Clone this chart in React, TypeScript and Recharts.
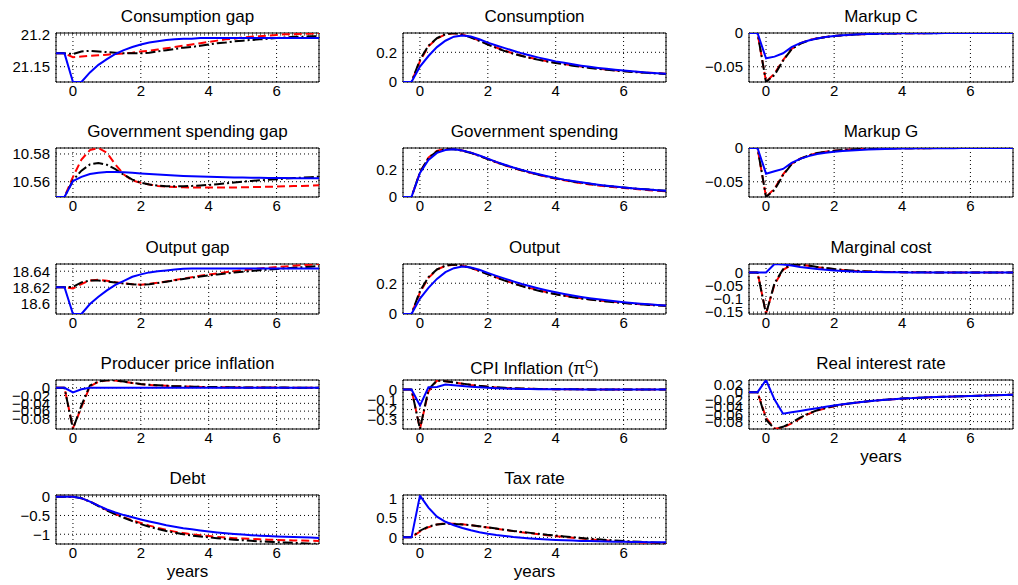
import { LineChart, Line, XAxis, YAxis, CartesianGrid, ReferenceArea } from "recharts";

// quarters, in years after the shock
const TIME = [
  -0.5, -0.25, 0, 0.25, 0.5, 0.75, 1, 1.25,
  1.5, 1.75, 2, 2.25, 2.5, 2.75, 3, 3.25,
  3.5, 3.75, 4, 4.25, 4.5, 4.75, 5, 5.25,
  5.5, 5.75, 6, 6.25, 6.5, 6.75, 7, 7.25,
];
const X_TICKS = [0, 2, 4, 6];

const consGapBlue = [
  21.171, 21.171, 21.126, 21.126, 21.141, 21.153, 21.162, 21.170,
  21.176, 21.181, 21.185, 21.188, 21.190, 21.192, 21.193, 21.194,
  21.194, 21.195, 21.195, 21.195, 21.195, 21.195, 21.195, 21.195,
  21.195, 21.195, 21.195, 21.195, 21.195, 21.195, 21.195, 21.195,
];
const consGapBlack = [
  21.171, 21.171, 21.170, 21.174, 21.175, 21.174, 21.173, 21.172,
  21.171, 21.171, 21.171, 21.172, 21.174, 21.176, 21.178, 21.180,
  21.181, 21.183, 21.185, 21.187, 21.188, 21.190, 21.191, 21.192,
  21.193, 21.194, 21.195, 21.196, 21.197, 21.197, 21.198, 21.198,
];
const consGapRed = [
  21.171, 21.171, 21.165, 21.166, 21.167, 21.168, 21.169, 21.170,
  21.171, 21.172, 21.174, 21.175, 21.177, 21.179, 21.181, 21.183,
  21.185, 21.187, 21.189, 21.191, 21.193, 21.194, 21.196, 21.197,
  21.198, 21.199, 21.200, 21.201, 21.201, 21.202, 21.202, 21.203,
];

const consBlue = [
  0, 0, 0.104, 0.175, 0.235, 0.278, 0.305, 0.313,
  0.306, 0.288, 0.265, 0.246, 0.228, 0.21, 0.193, 0.178,
  0.164, 0.151, 0.139, 0.129, 0.119, 0.11, 0.102, 0.095,
  0.089, 0.083, 0.077, 0.072, 0.067, 0.063, 0.059, 0.055,
];
const consBlack = [
  0, 0, 0.15, 0.245, 0.295, 0.322, 0.33, 0.32,
  0.3, 0.277, 0.252, 0.229, 0.208, 0.19, 0.175, 0.161,
  0.149, 0.138, 0.128, 0.119, 0.11, 0.102, 0.095, 0.088,
  0.082, 0.077, 0.072, 0.068, 0.064, 0.06, 0.057, 0.054,
];
const consRed = [
  0, 0, 0.14, 0.24, 0.293, 0.32, 0.328, 0.32,
  0.301, 0.279, 0.255, 0.232, 0.211, 0.193, 0.177, 0.163,
  0.151, 0.14, 0.13, 0.121, 0.112, 0.104, 0.097, 0.09,
  0.084, 0.079, 0.074, 0.07, 0.066, 0.062, 0.059, 0.056,
];

const markCBlue = [
  0, 0, -0.0375, -0.035, -0.03, -0.021, -0.015, -0.011,
  -0.008, -0.006, -0.0045, -0.0035, -0.0027, -0.002, -0.0015, -0.0012,
  -0.0009, -0.0007, -0.0005, -0.0004, -0.0003, -0.0002, -0.0002, -0.0001,
  -0.0001, 0, 0, 0, 0, 0, 0, 0,
];
const markCBlack = [
  0, 0, -0.0725, -0.062, -0.041, -0.024, -0.016, -0.011,
  -0.008, -0.006, -0.0045, -0.0035, -0.0027, -0.002, -0.0015, -0.0012,
  -0.0009, -0.0007, -0.0005, -0.0004, -0.0003, -0.0002, -0.0002, -0.0001,
  -0.0001, 0, 0, 0, 0, 0, 0, 0,
];
const markCRed = [
  0, 0, -0.072, -0.06, -0.04, -0.0235, -0.0155, -0.0105,
  -0.0078, -0.0058, -0.0044, -0.0034, -0.0026, -0.002, -0.0015, -0.0011,
  -0.0008, -0.0006, -0.0005, -0.0004, -0.0003, -0.0002, -0.0001, -0.0001,
  0, 0, 0, 0, 0, 0, 0, 0,
];

const govGapBlue = [
  10.549, 10.549, 10.5605, 10.5635, 10.5655, 10.5665, 10.567, 10.567,
  10.5668, 10.5664, 10.566, 10.5656, 10.5652, 10.5648, 10.5645, 10.5642,
  10.564, 10.5638, 10.5636, 10.5634, 10.5632, 10.5631, 10.563, 10.5629,
  10.5628, 10.5627, 10.5626, 10.5626, 10.5625, 10.5625, 10.5625, 10.5625,
];
const govGapBlack = [
  10.549, 10.549, 10.561, 10.568, 10.5725, 10.5735, 10.5722, 10.569,
  10.565, 10.5615, 10.5593, 10.558, 10.5572, 10.5568, 10.5567, 10.5568,
  10.557, 10.5573, 10.5577, 10.5582, 10.5588, 10.5594, 10.56, 10.5606,
  10.561, 10.5614, 10.5618, 10.5622, 10.5626, 10.563, 10.5633, 10.5636,
];
const govGapRed = [
  10.549, 10.549, 10.5635, 10.576, 10.5828, 10.5843, 10.5808, 10.5724,
  10.5652, 10.561, 10.5592, 10.558, 10.557, 10.5565, 10.5562, 10.556,
  10.5559, 10.5558, 10.5558, 10.5558, 10.5558, 10.5559, 10.556, 10.5561,
  10.5562, 10.5564, 10.5565, 10.5567, 10.5569, 10.557, 10.5572, 10.5574,
];

const govBlue = [
  0, 0, 0.176, 0.27, 0.322, 0.343, 0.348, 0.34,
  0.324, 0.303, 0.28, 0.257, 0.236, 0.216, 0.198, 0.181,
  0.166, 0.152, 0.139, 0.127, 0.117, 0.107, 0.098, 0.09,
  0.083, 0.076, 0.07, 0.064, 0.059, 0.054, 0.05, 0.046,
];
const govBlack = [
  0, 0, 0.18, 0.285, 0.333, 0.35, 0.349, 0.339,
  0.322, 0.3, 0.277, 0.254, 0.233, 0.213, 0.195, 0.178,
  0.163, 0.149, 0.136, 0.125, 0.114, 0.105, 0.096, 0.088,
  0.081, 0.075, 0.069, 0.063, 0.058, 0.054, 0.05, 0.046,
];
const govRed = [
  0, 0, 0.18, 0.288, 0.337, 0.353, 0.351, 0.34,
  0.323, 0.301, 0.277, 0.254, 0.232, 0.212, 0.194, 0.177,
  0.161, 0.147, 0.134, 0.122, 0.111, 0.101, 0.092, 0.084,
  0.077, 0.071, 0.065, 0.06, 0.055, 0.05, 0.046, 0.042,
];

const markGBlue = [
  0, 0, -0.038, -0.0345, -0.031, -0.022, -0.016, -0.012,
  -0.009, -0.007, -0.0055, -0.0045, -0.0036, -0.0029, -0.0023, -0.0018,
  -0.0014, -0.0011, -0.0009, -0.0007, -0.0005, -0.0004, -0.0003, -0.0002,
  -0.0002, -0.0001, -0.0001, 0, 0, 0, 0, 0,
];
const markGBlack = [
  0, 0, -0.0725, -0.062, -0.04, -0.024, -0.016, -0.011,
  -0.0075, -0.0055, -0.004, -0.003, -0.0022, -0.0016, -0.0012, -0.0009,
  -0.0007, -0.0005, -0.0004, -0.0003, -0.0002, -0.0002, -0.0001, -0.0001,
  0, 0, 0, 0, 0, 0, 0, 0,
];
const markGRed = [
  0, 0, -0.0725, -0.06, -0.039, -0.0235, -0.0158, -0.011,
  -0.0075, -0.0055, -0.004, -0.003, -0.0022, -0.0016, -0.0012, -0.0009,
  -0.0007, -0.0005, -0.0004, -0.0003, -0.0002, -0.0002, -0.0001, -0.0001,
  0, 0, 0, 0, 0, 0, 0, 0,
];

const outGapBlue = [
  18.62, 18.62, 18.5865, 18.5865, 18.599, 18.608, 18.616, 18.623,
  18.628, 18.633, 18.636, 18.6385, 18.64, 18.641, 18.642, 18.643,
  18.6433, 18.6435, 18.6435, 18.6435, 18.6435, 18.6435, 18.6435, 18.6435,
  18.6435, 18.6435, 18.6435, 18.6435, 18.6435, 18.6435, 18.6435, 18.6435,
];
const outGapBlack = [
  18.62, 18.62, 18.6205, 18.626, 18.6285, 18.6285, 18.6272, 18.6258,
  18.6246, 18.6236, 18.623, 18.6238, 18.6252, 18.6268, 18.6285, 18.6302,
  18.6318, 18.6333, 18.6347, 18.636, 18.6372, 18.6383, 18.6393, 18.6403,
  18.6412, 18.642, 18.6428, 18.6436, 18.6443, 18.645, 18.6457, 18.6463,
];
const outGapRed = [
  18.62, 18.62, 18.6185, 18.624, 18.6285, 18.6292, 18.628, 18.6262,
  18.6248, 18.6238, 18.6232, 18.6242, 18.6256, 18.6272, 18.629, 18.6308,
  18.6325, 18.6342, 18.6358, 18.6373, 18.6387, 18.64, 18.6412, 18.6423,
  18.6433, 18.6443, 18.6452, 18.646, 18.6468, 18.6475, 18.6482, 18.6489,
];

const outBlue = [
  0, 0, 0.1, 0.17, 0.228, 0.272, 0.298, 0.308,
  0.303, 0.288, 0.267, 0.248, 0.23, 0.212, 0.195, 0.18,
  0.166, 0.153, 0.141, 0.13, 0.12, 0.111, 0.103, 0.096,
  0.089, 0.083, 0.077, 0.072, 0.067, 0.063, 0.059, 0.055,
];
const outBlack = [
  0, 0, 0.15, 0.24, 0.29, 0.315, 0.322, 0.315,
  0.3, 0.28, 0.258, 0.237, 0.217, 0.198, 0.181, 0.165,
  0.151, 0.139, 0.128, 0.118, 0.109, 0.101, 0.094, 0.087,
  0.081, 0.076, 0.071, 0.067, 0.063, 0.059, 0.056, 0.053,
];
const outRed = [
  0, 0, 0.14, 0.235, 0.288, 0.313, 0.32, 0.314,
  0.3, 0.28, 0.259, 0.238, 0.218, 0.2, 0.183, 0.168,
  0.154, 0.141, 0.13, 0.12, 0.111, 0.103, 0.096, 0.089,
  0.083, 0.078, 0.073, 0.068, 0.064, 0.06, 0.057, 0.054,
];

const mcBlue = [
  0, 0, 0, 0.032, 0.03, 0.026, 0.021, 0.017,
  0.013, 0.01, 0.0075, 0.0055, 0.004, 0.003, 0.002, 0.0015,
  0.001, 0.0007, 0.0005, 0.0003, 0.0002, 0.0001, 0, 0,
  0, 0, 0, 0, 0, 0, 0, 0,
];
const mcBlack = [
  0, 0, -0.157, -0.04, 0.012, 0.03, 0.03, 0.026,
  0.021, 0.017, 0.013, 0.01, 0.0075, 0.0055, 0.004, 0.003,
  0.0022, 0.0016, 0.0012, 0.0008, 0.0006, 0.0004, 0.0003, 0.0002,
  0.0001, 0, 0, 0, 0, 0, 0, 0,
];
const mcRed = [
  0, 0, -0.155, -0.045, 0.01, 0.029, 0.029, 0.025,
  0.02, 0.016, 0.012, 0.009, 0.007, 0.005, 0.0037, 0.0027,
  0.002, 0.0015, 0.001, 0.0007, 0.0005, 0.0003, 0.0002, 0.0001,
  0, 0, 0, 0, 0, 0, 0, 0,
];

const ppiBlue = [
  0, 0, -0.012, -0.004, 0, 0, 0, 0,
  0, 0, 0, 0, 0, 0, 0, 0,
  0, 0, 0, 0, 0, 0, 0, 0,
  0, 0, 0, 0, 0, 0, 0, 0,
];
const ppiBlack = [
  0, 0, -0.106, -0.045, 0.006, 0.016, 0.0195, 0.019,
  0.016, 0.0125, 0.0095, 0.0078, 0.0064, 0.0052, 0.0042, 0.0035,
  0.0029, 0.0024, 0.002, 0.0017, 0.0014, 0.0012, 0.001, 0.0008,
  0.0007, 0.0006, 0.0005, 0.0004, 0.0003, 0.0003, 0.0002, 0.0002,
];
const ppiRed = [
  0, 0, -0.104, -0.05, 0.004, 0.015, 0.019, 0.0185,
  0.0155, 0.012, 0.009, 0.0074, 0.006, 0.0049, 0.004, 0.0033,
  0.0027, 0.0022, 0.0018, 0.0015, 0.0012, 0.001, 0.0008, 0.0007,
  0.0006, 0.0005, 0.0004, 0.0003, 0.0003, 0.0002, 0.0002, 0.0001,
];

const cpiBlue = [
  0, 0, -0.16, 0.022, 0.025, 0.05, 0.042, 0.034,
  0.027, 0.021, 0.016, 0.012, 0.009, 0.007, 0.005, 0.004,
  0.003, 0.0022, 0.0016, 0.0012, 0.0009, 0.0007, 0.0005, 0.0004,
  0.0003, 0.0002, 0.0001, 0, 0, 0, 0, 0,
];
const cpiBlack = [
  0, 0, -0.393, 0, 0.09, 0.082, 0.07, 0.058,
  0.046, 0.036, 0.028, 0.021, 0.016, 0.012, 0.009, 0.007,
  0.005, 0.004, 0.003, 0.002, 0.0015, 0.001, 0.0008, 0.0006,
  0.0004, 0.0003, 0.0002, 0.0001, 0, 0, 0, 0,
];
const cpiRed = [
  0, 0, -0.39, -0.02, 0.088, 0.082, 0.069, 0.057,
  0.045, 0.035, 0.027, 0.02, 0.015, 0.011, 0.008, 0.006,
  0.0045, 0.0035, 0.0025, 0.002, 0.0015, 0.001, 0.0008, 0.0006,
  0.0004, 0.0003, 0.0002, 0.0001, 0, 0, 0, 0,
];

const rirBlue = [
  0, 0, 0.033, -0.02, -0.0585, -0.0547, -0.0509, -0.0471,
  -0.0435, -0.0398, -0.0362, -0.0328, -0.0298, -0.0271, -0.0247, -0.0226,
  -0.0207, -0.019, -0.0175, -0.0162, -0.0151, -0.0141, -0.0132, -0.0124,
  -0.0117, -0.011, -0.0103, -0.0096, -0.0089, -0.0082, -0.0075, -0.0068,
];
const rirBlack = [
  0, 0, -0.075, -0.0995, -0.094, -0.083, -0.069, -0.058,
  -0.049, -0.043, -0.0375, -0.0335, -0.03, -0.027, -0.0245, -0.0224,
  -0.0205, -0.0189, -0.0175, -0.0163, -0.0152, -0.0142, -0.0133, -0.0125,
  -0.0117, -0.011, -0.0103, -0.0096, -0.0089, -0.0082, -0.0075, -0.0068,
];
const rirRed = [
  0, 0, -0.07, -0.099, -0.096, -0.085, -0.071, -0.059,
  -0.05, -0.0435, -0.038, -0.0338, -0.0302, -0.0272, -0.0247, -0.0225,
  -0.0206, -0.019, -0.0176, -0.0163, -0.0152, -0.0142, -0.0133, -0.0125,
  -0.0117, -0.011, -0.0103, -0.0096, -0.0089, -0.0082, -0.0075, -0.0068,
];

const debtBlue = [
  0, 0, 0, -0.04, -0.13, -0.24, -0.34, -0.42,
  -0.49, -0.55, -0.605, -0.66, -0.71, -0.76, -0.8, -0.84,
  -0.87, -0.9, -0.93, -0.955, -0.975, -0.995, -1.01, -1.025,
  -1.037, -1.048, -1.058, -1.067, -1.075, -1.083, -1.09, -1.097,
];
const debtBlack = [
  0, 0, 0, -0.04, -0.13, -0.25, -0.37, -0.47,
  -0.56, -0.65, -0.73, -0.8, -0.86, -0.915, -0.96, -1.0,
  -1.035, -1.06, -1.085, -1.105, -1.125, -1.145, -1.16, -1.175,
  -1.19, -1.2, -1.21, -1.22, -1.23, -1.24, -1.25, -1.26,
];
const debtRed = [
  0, 0, 0, -0.04, -0.13, -0.24, -0.36, -0.46,
  -0.55, -0.63, -0.7, -0.77, -0.83, -0.885, -0.93, -0.97,
  -1.0, -1.025, -1.05, -1.07, -1.09, -1.105, -1.115, -1.125,
  -1.135, -1.145, -1.152, -1.158, -1.164, -1.17, -1.175, -1.18,
];

const taxBlue = [
  0, 0, 1.07, 0.76, 0.53, 0.4, 0.31, 0.24,
  0.18, 0.13, 0.09, 0.06, 0.035, 0.01, -0.01, -0.027,
  -0.042, -0.055, -0.066, -0.075, -0.083, -0.09, -0.096, -0.101,
  -0.106, -0.11, -0.114, -0.117, -0.12, -0.123, -0.125, -0.128,
];
const taxBlack = [
  0, 0, 0.17, 0.28, 0.33, 0.35, 0.345, 0.33,
  0.31, 0.285, 0.255, 0.225, 0.195, 0.165, 0.14, 0.115,
  0.09, 0.065, 0.045, 0.025, 0.005, -0.015, -0.035, -0.05,
  -0.065, -0.08, -0.095, -0.105, -0.115, -0.125, -0.135, -0.145,
];
const taxRed = [
  0, 0, 0.15, 0.26, 0.33, 0.36, 0.35, 0.335,
  0.31, 0.28, 0.25, 0.22, 0.19, 0.16, 0.13, 0.105,
  0.08, 0.055, 0.03, 0.01, -0.01, -0.03, -0.05, -0.065,
  -0.08, -0.095, -0.11, -0.12, -0.13, -0.14, -0.15, -0.16,
];

// plot boxes in page pixels
const COLS = [[56, 319], [403, 666], [749, 1013]];
const ROWS = [[33, 82], [148, 197], [264, 314], [380, 429], [495, 544]];
const FONT = "'Liberation Sans', Arial, Helvetica, sans-serif";

type PanelDef = {
  title: React.ReactNode;
  col: number;
  row: number;
  domain: [number, number];
  ticks: number[];
  blue: number[];
  black: number[];
  red: number[];
  years?: boolean;
};

const PANELS: PanelDef[] = [
  { title: "Consumption gap", col: 0, row: 0, domain: [21.126, 21.203], ticks: [21.15, 21.2], blue: consGapBlue, black: consGapBlack, red: consGapRed },
  { title: "Consumption", col: 1, row: 0, domain: [0, 0.33], ticks: [0, 0.2], blue: consBlue, black: consBlack, red: consRed },
  { title: "Markup C", col: 2, row: 0, domain: [-0.0725, 0], ticks: [-0.05, 0], blue: markCBlue, black: markCBlack, red: markCRed },
  { title: "Government spending gap", col: 0, row: 1, domain: [10.549, 10.5843], ticks: [10.56, 10.58], blue: govGapBlue, black: govGapBlack, red: govGapRed },
  { title: "Government spending", col: 1, row: 1, domain: [0, 0.358], ticks: [0, 0.2], blue: govBlue, black: govBlack, red: govRed },
  { title: "Markup G", col: 2, row: 1, domain: [-0.0725, 0], ticks: [-0.05, 0], blue: markGBlue, black: markGBlack, red: markGRed },
  { title: "Output gap", col: 0, row: 2, domain: [18.5865, 18.649], ticks: [18.6, 18.62, 18.64], blue: outGapBlue, black: outGapBlack, red: outGapRed },
  { title: "Output", col: 1, row: 2, domain: [0, 0.325], ticks: [0, 0.2], blue: outBlue, black: outBlack, red: outRed },
  { title: "Marginal cost", col: 2, row: 2, domain: [-0.157, 0.032], ticks: [-0.15, -0.1, -0.05, 0], blue: mcBlue, black: mcBlack, red: mcRed },
  { title: "Producer price inflation", col: 0, row: 3, domain: [-0.106, 0.02], ticks: [-0.08, -0.06, -0.04, -0.02, 0], blue: ppiBlue, black: ppiBlack, red: ppiRed },
  {
    title: (
      <>
        CPI Inflation (π<sup style={{ fontSize: 11, verticalAlign: 6 }}>C</sup>)
      </>
    ),
    col: 1, row: 3, domain: [-0.393, 0.094], ticks: [-0.3, -0.2, -0.1, 0], blue: cpiBlue, black: cpiBlack, red: cpiRed,
  },
  { title: "Real interest rate", col: 2, row: 3, domain: [-0.1, 0.033], ticks: [-0.08, -0.06, -0.04, -0.02, 0, 0.02], blue: rirBlue, black: rirBlack, red: rirRed, years: true },
  { title: "Debt", col: 0, row: 4, domain: [-1.26, 0.045], ticks: [-1, -0.5, 0], blue: debtBlue, black: debtBlack, red: debtRed, years: true },
  { title: "Tax rate", col: 1, row: 4, domain: [-0.17, 1.085], ticks: [0, 0.5, 1], blue: taxBlue, black: taxBlack, red: taxRed, years: true },
];

const fmt = (v: number) => (v < 0 ? "\u2212" + String(Math.abs(v)) : String(v));

const tickStyle = { fill: "#000", fontSize: 15, fontFamily: FONT };

function Panel({ p }: { p: PanelDef }) {
  const data = TIME.map((t, i) => ({ t, blue: p.blue[i], black: p.black[i], red: p.red[i] }));
  const [left, right] = COLS[p.col];
  const [top, bottom] = ROWS[p.row];
  const yw = 60;
  const mt = 10;
  const mr = 4;
  const xh = 22;
  const w = right - left + yw + mr;
  const h = bottom - top + mt + xh;

  return (
    <>
      <div
        style={{
          position: "absolute",
          left,
          width: right - left,
          top: top - 27,
          lineHeight: "22px",
          textAlign: "center",
          fontFamily: FONT,
          fontSize: 17,
          color: "#000",
          whiteSpace: "nowrap",
        }}
      >
        {p.title}
      </div>
      <div style={{ position: "absolute", left: left - yw, top: top - mt, width: w, height: h }}>
        <LineChart width={w} height={h} data={data} margin={{ top: mt, right: mr, bottom: 0, left: 0 }}>
          <CartesianGrid stroke="#000" strokeDasharray="1 3" strokeWidth={1} />
          <XAxis
            dataKey="t"
            type="number"
            domain={[-0.5, 7.25]}
            ticks={X_TICKS}
            interval={0}
            allowDataOverflow
            height={xh}
            axisLine={false}
            tickLine={false}
            tickSize={2}
            tickMargin={1}
            tick={tickStyle}
          />
          <YAxis
            type="number"
            domain={p.domain}
            ticks={p.ticks}
            interval={0}
            allowDataOverflow
            width={yw}
            axisLine={false}
            tickLine={false}
            tickSize={4}
            tickMargin={2}
            tick={tickStyle}
            tickFormatter={fmt}
          />
          <Line type="linear" dataKey="red" stroke="#ff0000" strokeWidth={2} strokeDasharray="8 4" dot={false} isAnimationActive={false} />
          <Line type="linear" dataKey="black" stroke="#000000" strokeWidth={2} strokeDasharray="10 3 2 3" dot={false} isAnimationActive={false} />
          <Line type="linear" dataKey="blue" stroke="#0000ff" strokeWidth={2} dot={false} isAnimationActive={false} />
          <ReferenceArea
            x1={-0.5}
            x2={7.25}
            y1={p.domain[0]}
            y2={p.domain[1]}
            stroke="#000"
            strokeWidth={1}
            fill="none"
            fillOpacity={0}
            ifOverflow="visible"
          />
        </LineChart>
      </div>
      {p.years && (
        <div
          style={{
            position: "absolute",
            left,
            width: right - left,
            top: bottom + 17,
            lineHeight: "22px",
            textAlign: "center",
            fontFamily: FONT,
            fontSize: 17,
            color: "#000",
          }}
        >
          years
        </div>
      )}
    </>
  );
}

export default function App() {
  return (
    <div style={{ position: "absolute", left: 0, top: 0, width: 1018, height: 585, background: "#fff", overflow: "hidden" }}>
      {PANELS.map((p, i) => (
        <Panel key={i} p={p} />
      ))}
    </div>
  );
}
